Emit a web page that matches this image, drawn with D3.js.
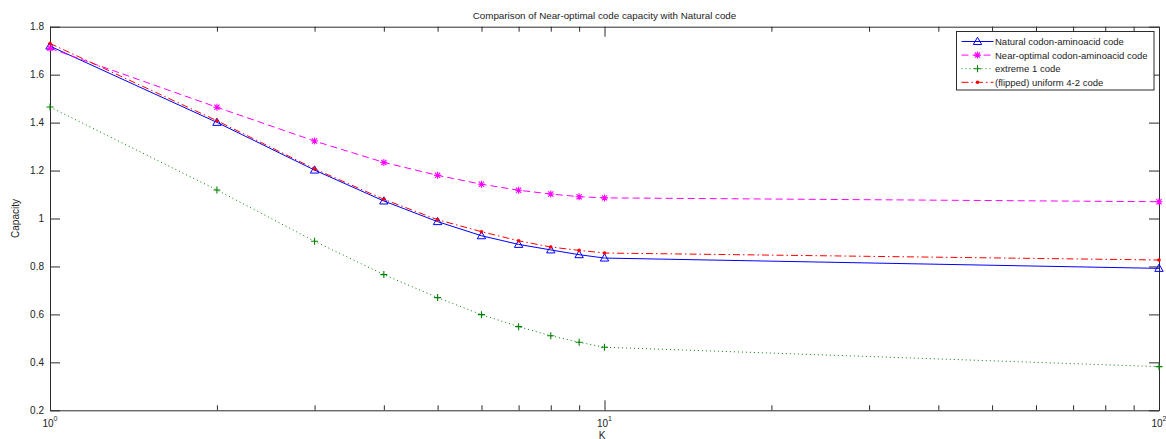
<!DOCTYPE html>
<html>
<head>
<meta charset="utf-8">
<script src="https://cdn.jsdelivr.net/npm/d3@7"></script>
<style>
  html, body { margin: 0; padding: 0; background: #fff; }
  svg { display: block; font-family: "Liberation Sans", Arial, Helvetica, sans-serif; }
</style>
</head>
<body>
<svg id="chart" width="1166" height="439"></svg>
<script>
// Channel capacity versus K for several codon-to-amino-acid codes
const kValues = [1, 2, 3, 4, 5, 6, 7, 8, 9, 10, 100];
const naturalCode = [1.719, 1.401, 1.202, 1.073, 0.987, 0.928, 0.892, 0.869, 0.849, 0.835, 0.792];
const nearOptimalCode = [1.710, 1.464, 1.323, 1.234, 1.180, 1.143, 1.118, 1.102, 1.091, 1.086, 1.070];
const extremeCode = [1.465, 1.119, 0.905, 0.766, 0.670, 0.599, 0.549, 0.511, 0.484, 0.463, 0.382];
const flippedUniformCode = [1.730, 1.408, 1.207, 1.080, 0.995, 0.945, 0.907, 0.881, 0.867, 0.856, 0.827];

const seriesNames = [
  "Natural codon-aminoacid code",
  "Near-optimal codon-aminoacid code",
  "extreme 1 code",
  "(flipped) uniform 4-2 code"
];
const xMajorTicks = [1, 10, 100];
const xTickExponents = ["0", "1", "2"];
const yTicks = [0.2, 0.4, 0.6, 0.8, 1.0, 1.2, 1.4, 1.6, 1.8];

const titleText = "Comparison of Near-optimal code capacity with Natural code";
const xLabel = "K";
const yLabel = "Capacity";

// plot geometry
const plotLeft = 50, plotRight = 1159, plotTop = 26.7, plotBottom = 410.3;
const axisColor = "#2b2b2b";

const svg = d3.select("#chart");
const x = d3.scaleLog().domain([1, 100]).range([plotLeft, plotRight]);
const y = d3.scaleLinear().domain([0.2, 1.8]).range([plotBottom, plotTop]);

const xMinor = [];
[1, 10].forEach(dec => { for (let m = 2; m <= 9; m++) xMinor.push(dec * m); });

function styleAxis(g) {
  g.selectAll("path.domain").attr("stroke", axisColor);
  g.selectAll(".tick line").attr("stroke", axisColor);
}

// box axes with inward ticks
svg.append("g").attr("transform", `translate(0,${plotBottom})`)
  .call(d3.axisBottom(x).tickValues(xMajorTicks).tickSize(-10).tickSizeOuter(0).tickFormat(""))
  .call(g => g.selectAll(".tick text").remove()).call(styleAxis);
svg.append("g").attr("transform", `translate(0,${plotBottom})`)
  .call(d3.axisBottom(x).tickValues(xMinor).tickSize(-5).tickSizeOuter(0).tickFormat(""))
  .call(g => g.select("path.domain").remove()).call(styleAxis);

svg.append("g").attr("transform", `translate(0,${plotTop})`)
  .call(d3.axisTop(x).tickValues(xMajorTicks).tickSize(-10).tickSizeOuter(0).tickFormat(""))
  .call(g => g.selectAll(".tick text").remove()).call(styleAxis);
svg.append("g").attr("transform", `translate(0,${plotTop})`)
  .call(d3.axisTop(x).tickValues(xMinor).tickSize(-5).tickSizeOuter(0).tickFormat(""))
  .call(g => g.select("path.domain").remove()).call(styleAxis);

svg.append("g").attr("transform", `translate(${plotLeft},0)`)
  .call(d3.axisLeft(y).tickValues(yTicks).tickSize(-10).tickSizeOuter(0).tickPadding(6).tickFormat(d3.format("~g")))
  .call(styleAxis)
  .call(g => g.selectAll(".tick text").attr("font-size", 10).attr("fill", "#222"))
  .attr("font-family", null).attr("font-size", null);

svg.append("g").attr("transform", `translate(${plotRight},0)`)
  .call(d3.axisRight(y).tickValues(yTicks).tickSize(-10).tickSizeOuter(0).tickFormat(""))
  .call(g => g.selectAll(".tick text").remove()).call(styleAxis);

// x tick labels as powers of ten
const xLab = svg.append("g").selectAll("text").data(xMajorTicks).join("text")
  .attr("x", d => x(d))
  .attr("y", 426.5)
  .attr("text-anchor", "middle")
  .attr("font-size", 10)
  .attr("fill", "#222");
xLab.append("tspan").text("10");
xLab.append("tspan").attr("font-size", 7).attr("dy", -6).text((d, i) => xTickExponents[i]);

// titles
svg.append("text").attr("x", (plotLeft + plotRight) / 2).attr("y", 19)
  .attr("text-anchor", "middle").attr("font-size", 9.8).attr("fill", "#222").text(titleText);
svg.append("text").attr("x", 602).attr("y", 438.5)
  .attr("text-anchor", "middle").attr("font-size", 10).attr("fill", "#222").text(xLabel);
svg.append("text").attr("transform", `translate(19,${(plotTop + plotBottom) / 2}) rotate(-90)`)
  .attr("text-anchor", "middle").attr("font-size", 10).attr("fill", "#222").text(yLabel);

// series definitions
const series = [
  { name: seriesNames[0], values: naturalCode, color: "#0000ff", dash: null, marker: "triangle" },
  { name: seriesNames[1], values: nearOptimalCode, color: "#ff00ff", dash: "7,4", marker: "star" },
  { name: seriesNames[2], values: extremeCode, color: "#008000", dash: "1,3", marker: "plus" },
  { name: seriesNames[3], values: flippedUniformCode, color: "#ff0000", dash: "7,3,1.5,3", marker: "dot" }
];

const line = d3.line().x(d => x(d.k)).y(d => y(d.v));

function drawMarker(g, type, color) {
  if (type === "triangle") {
    g.append("path").attr("d", "M0,-4.2L4.2,3L-4.2,3Z")
      .attr("fill", "none").attr("stroke", color).attr("stroke-width", 1);
  } else if (type === "star") {
    g.append("path").attr("d", "M-3.5,0H3.5M0,-3.5V3.5M-2.6,-2.6L2.6,2.6M-2.6,2.6L2.6,-2.6")
      .attr("stroke", color).attr("stroke-width", 1.1);
  } else if (type === "plus") {
    g.append("path").attr("d", "M-3.5,0H3.5M0,-3.5V3.5")
      .attr("stroke", color).attr("stroke-width", 1.1);
  } else if (type === "dot") {
    g.append("circle").attr("r", 1.8).attr("fill", color);
  }
}

const plot = svg.append("g");
series.forEach(s => {
  const pts = kValues.map((k, i) => ({ k, v: s.values[i] }));
  plot.append("path").datum(pts)
    .attr("d", line)
    .attr("fill", "none")
    .attr("stroke", s.color)
    .attr("stroke-width", 1)
    .attr("stroke-dasharray", s.dash);
  plot.append("g").selectAll("g").data(pts).join("g")
    .attr("transform", d => `translate(${x(d.k)},${y(d.v)})`)
    .each(function () { drawMarker(d3.select(this), s.marker, s.color); });
});

// legend
const legend = svg.append("g").attr("transform", "translate(956.5,31.5)");
legend.append("rect").attr("width", 197.5).attr("height", 58.5)
  .attr("fill", "#fff").attr("stroke", axisColor).attr("stroke-width", 1);
series.forEach((s, i) => {
  const row = legend.append("g").attr("transform", `translate(0,${10 + i * 13.6})`);
  row.append("line").attr("x1", 5).attr("x2", 37).attr("y1", 0).attr("y2", 0)
    .attr("stroke", s.color).attr("stroke-width", 1).attr("stroke-dasharray", s.dash);
  const m = row.append("g").attr("transform", "translate(21,0)");
  drawMarker(m, s.marker, s.color);
  row.append("text").attr("x", 38.5).attr("y", 3.5)
    .attr("font-size", 9.5).attr("fill", "#222").text(s.name);
});
</script>
</body>
</html>
